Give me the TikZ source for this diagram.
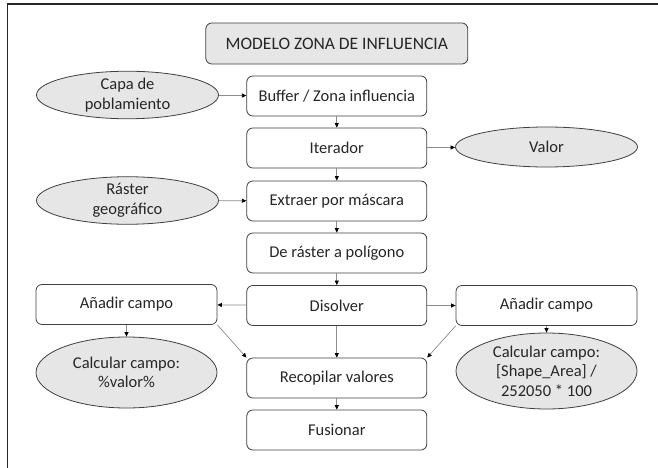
\documentclass[tikz,border=0pt]{standalone}
\usepackage{fontspec}
\setmainfont{Carlito}
\usetikzlibrary{shapes.geometric,arrows.meta}
\definecolor{boxline}{HTML}{404040}
\definecolor{shapefill}{HTML}{E6E6E6}
\definecolor{conn}{HTML}{8C8C8C}
\definecolor{txt}{HTML}{262626}
\tikzset{
  procbox/.style={draw=boxline, line width=0.8pt, rounded corners=6pt, fill=white,
    minimum width=180pt, minimum height=40pt, inner sep=0pt, text=txt,
    font=\fontsize{16.5}{19.5}\selectfont},
  titlebox/.style={procbox, fill=shapefill, minimum width=262pt, minimum height=41pt,
    font=\fontsize{17.5}{20}\selectfont},
  dataell/.style={ellipse, draw=boxline, line width=0.8pt, fill=shapefill,
    minimum width=182pt, minimum height=40pt, inner sep=0pt, text=txt,
    align=center, font=\fontsize{16.5}{19.5}\selectfont},
  conn/.style={draw=conn, line width=0.7pt,
    -{Triangle[length=4.5pt,width=4pt,color=black]}}
}
\begin{document}
\begin{tikzpicture}[x=1pt,y=-1pt]
\useasboundingbox (0,0) rectangle (658,468);
\fill[white] (0,0) rectangle (658,468);
\draw[line width=1.5pt, black!85] (7.5,468) -- (7.5,4) -- (658,4);

\node[titlebox] (title) at (336.8,43.5) {MODELO ZONA DE INFLUENCIA};
\node[procbox] (buf) at (336.8,96) {Buffer / Zona influencia};
\node[procbox] (iter) at (336.8,148) {Iterador};
\node[procbox] (ext) at (336.8,201) {Extraer por máscara};
\node[procbox] (pol) at (336.8,253) {De ráster a polígono};
\node[procbox] (dis) at (336.8,305.5) {Disolver};
\node[procbox] (rec) at (336.8,378) {Recopilar valores};
\node[procbox] (fus) at (336.8,430) {Fusionar};

\node[dataell] (capa) at (127.5,95) {Capa de\\poblamiento};
\node[dataell] (ras) at (127.5,200.5) {Ráster\\geográfico};
\node[dataell] (valor) at (546.5,147) {Valor};

\node[procbox, minimum width=181pt] (addl) at (126.5,304.5) {Añadir campo};
\node[procbox, minimum width=181pt] (addr) at (546.5,305.5) {Añadir campo};
\node[dataell, minimum width=181pt, minimum height=71pt] (calcl) at (126.5,372.5) {Calcular campo:\\\%valor\%};
\node[dataell, minimum width=181pt, minimum height=76pt] (calcr) at (546.5,371) {Calcular campo:\\{}[Shape\_Area] /\\252050 * 100};

\draw[conn] (capa) -- (buf);
\draw[conn] (buf) -- (iter);
\draw[conn] (iter) -- (valor);
\draw[conn] (ras) -- (ext);
\draw[conn] (iter) -- (ext);
\draw[conn] (ext) -- (pol);
\draw[conn] (pol) -- (dis);
\draw[conn] (dis) -- (addl);
\draw[conn] (dis) -- (addr);
\draw[conn] (dis) -- (rec);
\draw[conn] (addl) -- (calcl);
\draw[conn] (addr) -- (calcr);
\draw[conn] (addl.south east) -- (rec.north west);
\draw[conn] (addr.south west) -- (rec.north east);
\draw[conn] (rec) -- (fus);
\end{tikzpicture}
\end{document}
